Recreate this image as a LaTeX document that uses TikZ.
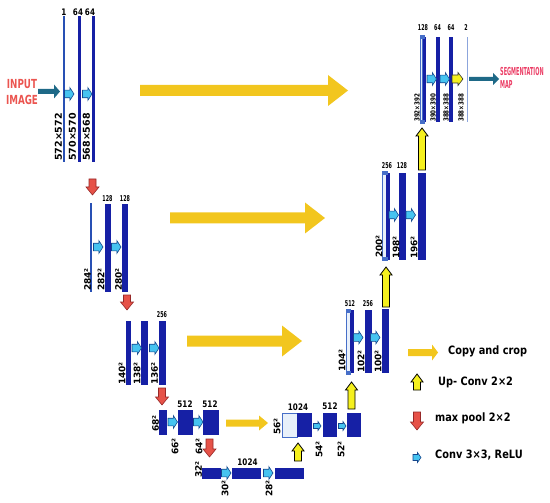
\documentclass[tikz,border=0pt]{standalone}
\usepackage{fontspec}
\setmainfont{DejaVu Sans}
\newfontfamily\nf[FakeStretch=0.8]{DejaVu Sans}
\newfontfamily\vf{DejaVu Sans}
\newfontfamily\nnf[FakeStretch=0.6]{DejaVu Sans}
\newfontfamily\lgf[FakeStretch=0.85]{DejaVu Sans}
\newfontfamily\inpf[FakeStretch=0.7]{DejaVu Sans}
\newfontfamily\sgf[FakeStretch=0.45]{DejaVu Sans}
\definecolor{dkb}{RGB}{22,32,165}
\definecolor{thinb}{RGB}{40,80,180}
\definecolor{ltb}{RGB}{140,165,220}
\definecolor{lfill}{RGB}{232,240,250}
\definecolor{lbord}{RGB}{70,110,200}
\definecolor{cpy}{RGB}{242,198,30}
\definecolor{upy}{RGB}{245,240,30}
\definecolor{mpr}{RGB}{230,82,72}
\definecolor{mpo}{RGB}{150,40,40}
\definecolor{cvb}{RGB}{70,195,240}
\definecolor{cvo}{RGB}{20,70,140}
\definecolor{tealc}{RGB}{30,105,135}
\definecolor{inred}{RGB}{235,85,80}
\definecolor{sgred}{RGB}{235,60,100}
% block arrow: style, start, angle, length, shaft half, head half, head length
\newcommand\barw[7]{\path[#1,shift={(#2)},rotate=#3] (0,-#5) -- ({#4-#7},-#5) -- ({#4-#7},-#6) -- (#4,0) -- ({#4-#7},#6) -- ({#4-#7},#5) -- (0,#5) -- cycle;}
\newcommand\convA[1]{\barw{fill=cvb,draw=cvo,line width=0.6pt}{#1}{0}{9.5}{3.8}{6.5}{4.2}}
\newcommand\convY[1]{\barw{fill=upy,draw=black!80,line width=0.6pt}{#1}{0}{11}{4}{6.5}{5}}
\newcommand\poolA[2]{\barw{fill=mpr,draw=mpo,line width=0.6pt}{#1}{-90}{#2}{3.5}{6.5}{8}}
\newcommand\upcA[2]{\barw{fill=upy,draw=black,line width=0.8pt}{#1}{90}{#2}{3.5}{6}{8}}
\newcommand\copyA[2]{\barw{fill=cpy}{#1}{0}{#2}{5.5}{15.5}{20}}
\newcommand\dbar[4]{\fill[dkb] (#1,#3) rectangle (#2,#4);}
\newcommand\lbar[5]{\filldraw[fill=lfill,draw=lbord,line width=0.5pt] (#1,#3) rectangle (#2,#4);\fill[dkb] (#2,#3) rectangle (#5,#4);}
\newcommand\cropmk[3]{\fill[lbord] (#1,#3) rectangle (#2,{#3+4});}
\tikzset{
  vl/.style={rotate=90,anchor=west,inner sep=0pt,font=\vf\bfseries\fontsize{9}{9}\selectfont},
  vlb/.style={rotate=90,anchor=west,inner sep=0pt,font=\vf\bfseries\fontsize{9.5}{9.5}\selectfont},
  vls/.style={rotate=90,anchor=west,inner sep=0pt,font=\nf\bfseries\fontsize{7}{7}\selectfont},
  numA/.style={inner sep=0pt,font=\nf\bfseries\fontsize{9}{9}\selectfont},
  numB/.style={inner sep=0pt,font=\nnf\bfseries\fontsize{8}{8}\selectfont},
  lgt/.style={anchor=west,inner sep=0pt,font=\lgf\bfseries\fontsize{11.5}{11.5}\selectfont}
}
\begin{document}
\begin{tikzpicture}[x=1pt,y=-1pt]
\useasboundingbox (0,0) rectangle (550,503);
% ---------- level 1 left
\fill[thinb] (63.3,16) rectangle (64.8,162);
\dbar{77.5}{80.5}{16}{162}
\dbar{91.7}{94.5}{16}{162}
\node[numA] (n1) at (64,12) {1};
\node[numA] (n2) at (78,12) {64};
\node[numA] (n3) at (90,12) {64};
\convA{64.5,94}
\convA{82.5,94}
\node[vlb] (v1) at (58.5,161) {572×572};
\node[vlb] (v2) at (72.5,161) {570×570};
\node[vlb] (v3) at (86.5,161) {568×568};
\barw{fill=tealc}{38,91.5}{0}{22}{2.5}{7}{6}
\node[inner sep=0pt,text=inred,font=\inpf\bfseries\fontsize{12.5}{12.5}\selectfont,align=center] (inp) at (22,92) {INPUT\\[3pt]IMAGE};
\copyA{140,90.5}{208}
% ---------- level 2 left
\poolA{92.5,179}{16}
\fill[thinb] (90.2,203) rectangle (92,292);
\dbar{104.5}{110.5}{204}{292}
\dbar{122}{128}{204}{292}
\node[numB] (n4) at (107.5,199) {128};
\node[numB] (n5) at (125,199) {128};
\convA{93.5,247}
\convA{111.5,247}
\node[vl] (v4) at (87.5,291) {284²};
\node[vl] (v5) at (101,291) {282²};
\node[vl] (v6) at (118.5,291) {280²};
\copyA{170,218}{155}
\poolA{127,295}{15}
% ---------- level 3 left
\dbar{126}{131}{321}{385}
\dbar{141}{148}{321}{385}
\dbar{159}{166}{321}{385}
\node[numB] (n6) at (162,315) {256};
\convA{132,348}
\convA{149.5,348}
\node[vl] (v7) at (122,385) {140²};
\node[vl] (v8) at (137,385) {138²};
\node[vl] (v9) at (154.5,385) {136²};
\copyA{187,341}{115}
\poolA{162,388}{17}
% ---------- level 4 left
\dbar{159}{167}{410}{435}
\dbar{178}{193}{410}{435}
\dbar{203}{219}{410}{435}
\node[numA] (n7) at (185,404) {512};
\node[numA] (n8) at (210,404) {512};
\convA{168,422}
\convA{193.5,422}
\node[vl] (v10) at (155.5,432) {68²};
\node[vl] (v11) at (175,455) {66²};
\node[vl] (v12) at (199,455) {64²};
\barw{fill=cpy}{226,423}{0}{42}{3.5}{7.5}{9}
\poolA{209.5,439}{18}
% ---------- level 5
\dbar{202}{221}{468}{479}
\dbar{232}{261}{468}{479}
\dbar{275}{304}{468}{479}
\node[numA] (n9) at (247.5,462) {1024};
\convA{221.5,473}
\convA{263.5,473}
\node[vl] (v13) at (198.5,478) {32²};
\node[vl] (v14) at (225,497) {30²};
\node[vl] (v15) at (269,497) {28²};
% ---------- level 4 right
\upcA{298,461}{18}
\lbar{282}{297}{413}{437}{312}
\dbar{323}{337}{413}{437}
\dbar{347}{361}{413}{437}
\node[numA] (n10) at (298,407) {1024};
\node[numA] (n11) at (330,406) {512};
\barw{fill=cvb,draw=cvo,line width=0.6pt}{313.5,426}{0}{7.5}{2.5}{4.5}{3}
\barw{fill=cvb,draw=cvo,line width=0.6pt}{338.5,426}{0}{7.5}{2.5}{4.5}{3}
\node[vl] (v16) at (277,435) {56²};
\node[vl] (v17) at (319,458) {54²};
\node[vl] (v18) at (341,458) {52²};
\upcA{351.5,409}{27}
% ---------- level 3 right
\lbar{346}{350}{310}{373}{353.5}
\cropmk{345.5}{351}{308.5}
\cropmk{345.5}{351}{370.5}
\dbar{365}{372}{310}{373}
\dbar{382}{389}{309}{373}
\node[numB] (n12) at (350,304) {512};
\node[numB] (n13) at (368,304) {256};
\convA{353.5,337.5}
\convA{370.5,337.5}
\node[vl] (v19) at (342,372) {104²};
\node[vl] (v20) at (361,373) {102²};
\node[vl] (v21) at (378,373) {100²};
\upcA{386,307}{40}
% ---------- level 2 right
\lbar{382}{386}{173}{260}{389.5}
\cropmk{381.5}{387.5}{171.5}
\cropmk{381.5}{387.5}{257}
\dbar{399}{406}{173}{260}
\dbar{418}{425.5}{173}{260}
\node[numB] (n14) at (387,166) {256};
\node[numB] (n15) at (402,166) {128};
\convA{389,215}
\convA{406,215}
\node[vl] (v22) at (379,258) {200²};
\node[vl] (v23) at (396,259) {198²};
\node[vl] (v24) at (414,259) {196²};
\upcA{422,170}{42}
% ---------- level 1 right
\lbar{420.5}{422.5}{37}{122}{426}
\cropmk{420}{425}{35}
\cropmk{420}{425}{120}
\dbar{436}{439.5}{37}{122}
\dbar{449}{452.5}{37}{122}
\fill[ltb] (466.5,37) rectangle (468,122);
\node[numB] (n16) at (423,28) {128};
\node[numB] (n17) at (437.5,28) {64};
\node[numB] (n18) at (451,28) {64};
\node[numB] (n19) at (466,28) {2};
\convA{427,79}
\convA{440,79}
\convY{452,79}
\node[vls] (v25) at (417,122) {392×392};
\node[vls] (v26) at (433,122) {390×390};
\node[vls] (v27) at (446,122) {388×388};
\node[vls] (v28) at (461,122) {388×388};
\barw{fill=tealc}{469,79}{0}{30}{2}{6}{6}
\node[anchor=west,inner sep=0pt,text=sgred,font=\sgf\bfseries\fontsize{11}{11}\selectfont,align=left] (seg) at (500,78) {SEGMENTATION\\[2pt]MAP};
% ---------- legend
\barw{fill=cpy}{408,352.5}{0}{30}{3.5}{8}{6}
\node[lgt] (t1) at (448,351) {Copy and crop};
\upcA{417,390}{16}
\node[lgt] (t2) at (438,382) {Up- Conv 2×2};
\poolA{417,412}{18}
\node[lgt] (t3) at (435,418) {max pool 2×2};
\barw{fill=cvb,draw=cvo,line width=0.6pt}{413,457.5}{0}{8}{3}{5}{3.5}
\node[lgt] (t4) at (435,455) {Conv 3×3, ReLU};
\end{tikzpicture}
\end{document}
